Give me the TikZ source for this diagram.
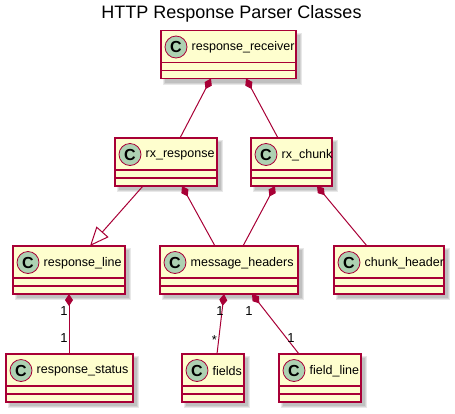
\documentclass[tikz,border=0pt]{standalone}
\usepackage{fontspec}
\setmainfont{Liberation Sans}
\usetikzlibrary{arrows.meta,calc}
\definecolor{umlborder}{HTML}{A80036}
\definecolor{umlfill}{HTML}{FEFECE}
\definecolor{umlcirc}{HTML}{ADD1B2}
\tikzset{
  classbox/.style={draw=umlborder, fill=umlfill, line width=1.3pt, inner sep=0pt, outer sep=0pt, rectangle},
  classshadow/.style={fill=black, opacity=0.09},
  circmark/.style={circle, draw=umlborder, fill=umlcirc, line width=0.8pt, minimum size=22pt, inner sep=0pt, font=\fontsize{16}{16}\selectfont\bfseries},
  classname/.style={anchor=west, inner sep=0pt, font=\fontsize{12.5}{14}\selectfont},
  sepline/.style={draw=umlborder, line width=1.3pt},
  rel/.style={draw=umlborder, line width=1pt},
  comp/.style={rel, {Diamond[length=12pt,width=8pt]}-},
  gen/.style={rel, -{Triangle[open,length=19pt,width=16pt,fill=white]}},
  mult/.style={inner sep=0pt, font=\fontsize{13}{14}\selectfont}
}
\newcommand{\umlclass}[5]{%
  \fill[classshadow] (#2+2,#3+2) rectangle (#4+6,#3+54);
  \fill[classshadow] (#2+3,#3+3) rectangle (#4+5,#3+53);
  \fill[classshadow] (#2+4,#3+4) rectangle (#4+4,#3+52);
  \node[classbox, minimum width=#4-#2, minimum height=48, anchor=north west] (#1) at (#2,#3) {};
  \draw[sepline] (#2,#3+32) -- (#4,#3+32);
  \draw[sepline] (#2,#3+40) -- (#4,#3+40);
  \node[circmark] (#1c) at (#2+15,#3+16.5) {C};
  \node[classname] (#1t) at (#2+30.5,#3+17) {#5};
}
\begin{document}
\begin{tikzpicture}[x=1pt,y=-1pt]
\useasboundingbox (0,0) rectangle (455,413);
\node[font=\fontsize{18}{20}\selectfont, inner sep=0pt] (title) at (231.5,13.5) {HTTP Response Parser Classes};
\umlclass{rr}{161}{30.5}{296}{response\_receiver}
\umlclass{rxr}{115}{138}{217}{rx\_response}
\umlclass{rxc}{251}{138}{332}{rx\_chunk}
\umlclass{rl}{13}{246}{125}{response\_line}
\umlclass{mh}{160}{246}{298}{message\_headers}
\umlclass{ch}{334}{246}{444}{chunk\_header}
\umlclass{rs}{6}{354}{133}{response\_status}
\umlclass{fi}{182}{354}{244}{fields}
\umlclass{fl}{279}{354}{361}{field\_line}
% connectors
\draw[comp] ([xshift=50pt]rr.south west) -- ([xshift=65pt]rxr.north west);
\draw[comp] ([xshift=85pt]rr.south west) -- ([xshift=27pt]rxc.north west);
\draw[gen] ([xshift=28pt]rxr.south west) -- ([xshift=77pt]rl.north west);
\draw[comp] ([xshift=67pt]rxr.south west) -- ([xshift=55pt]mh.north west);
\draw[comp] ([xshift=24pt]rxc.south west) -- ([xshift=83pt]mh.north west);
\draw[comp] ([xshift=66pt]rxc.south west) -- ([xshift=33pt]ch.north west);
\draw[comp] ([xshift=56pt]rl.south west) -- ([xshift=63pt]rs.north west);
\draw[comp] ([xshift=64pt]mh.south west) -- ([xshift=35pt]fi.north west);
\draw[comp] ([xshift=92pt]mh.south west) -- ([xshift=20pt]fl.north west);
% multiplicities
\node[mult] (m1) at (64,311) {1};
\node[mult] (m2) at (64,338) {1};
\node[mult] (m3) at (220,311) {1};
\node[mult] (m4) at (214.5,340) {*};
\node[mult] (m5) at (249,311) {1};
\node[mult] (m6) at (291,338) {1};
\end{tikzpicture}
\end{document}
